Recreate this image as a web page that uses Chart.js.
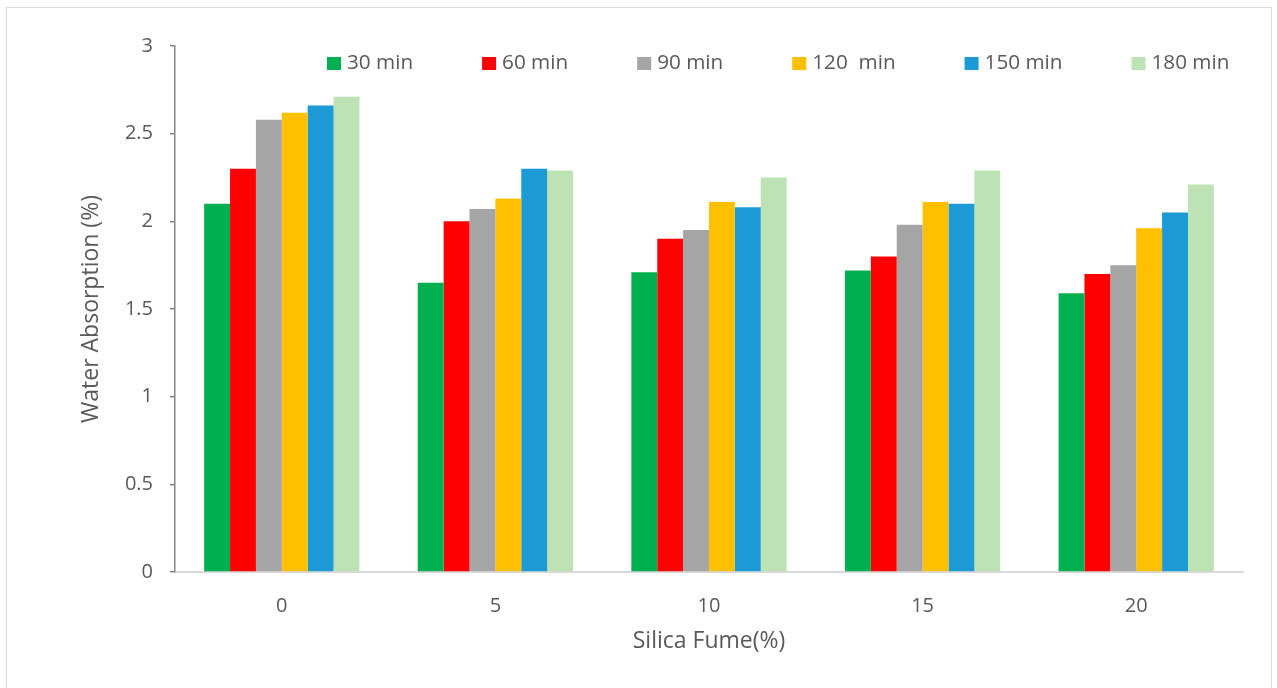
<!DOCTYPE html>
<html>
<head>
<meta charset="utf-8">
<script src="https://cdn.jsdelivr.net/npm/chart.js@4"></script>
<style>
  html, body { margin: 0; padding: 0; background: #ffffff; }
  #wrap { position: relative; width: 1277px; height: 688px; overflow: hidden; }
  #frame { position: absolute; left: 6px; top: 7px; width: 1266px; height: 720px;
           border: 1px solid #d9d9d9; box-sizing: border-box; }
  canvas { position: absolute; left: 0; top: 0; }
</style>
</head>
<body>
<div id="wrap">
  <div id="frame"></div>
  <canvas id="chart" width="1277" height="688"></canvas>
</div>
<script>
// Silica fume content (%) on the x axis
const categories = ['0', '5', '10', '15', '20'];

// Water absorption (%) after each immersion time
const seriesNames = ['30 min', '60 min', '90 min', '120  min', '150 min', '180 min'];
const absorption30 = [2.10, 1.65, 1.71, 1.72, 1.59];
const absorption60 = [2.30, 2.00, 1.90, 1.80, 1.70];
const absorption90 = [2.58, 2.07, 1.95, 1.98, 1.75];
const absorption120 = [2.62, 2.13, 2.11, 2.11, 1.96];
const absorption150 = [2.66, 2.30, 2.08, 2.10, 2.05];
const absorption180 = [2.71, 2.29, 2.25, 2.29, 2.21];

const yTicks = [0, 0.5, 1, 1.5, 2, 2.5, 3];

const seriesColors = ['#00b050', '#ff0000', '#a5a5a5', '#ffc000', '#1b9ad6', '#bde3b4'];
const seriesValues = [absorption30, absorption60, absorption90, absorption120, absorption150, absorption180];

const textColor = '#595959';
const fontFamily = '"Open Sans", "Noto Sans", sans-serif';

// Single-row legend drawn across the top of the plot
const topLegend = {
  id: 'topLegend',
  afterDraw(chart) {
    const ctx = chart.ctx;
    ctx.save();
    ctx.font = '20.7px ' + fontFamily;
    ctx.textBaseline = 'middle';
    ctx.textAlign = 'left';
    let x = 327;
    const boxTop = 57, boxW = 14, boxH = 13, textY = 63.5;
    chart.data.datasets.forEach(ds => {
      ctx.fillStyle = ds.backgroundColor;
      ctx.fillRect(x, boxTop, boxW, boxH);
      ctx.fillStyle = textColor;
      ctx.fillText(ds.label, x + boxW + 6, textY);
      x += boxW + 6 + ctx.measureText(ds.label).width + 69;
    });
    ctx.restore();
  }
};

new Chart(document.getElementById('chart'), {
  type: 'bar',
  data: {
    labels: categories,
    datasets: seriesNames.map((name, i) => ({
      label: name,
      data: seriesValues[i],
      backgroundColor: seriesColors[i],
      borderWidth: 0,
      barPercentage: 1,
      categoryPercentage: 0.727
    }))
  },
  options: {
    responsive: false,
    devicePixelRatio: 1,
    animation: false,
    layout: { padding: { top: 46, right: 34, bottom: 0, left: 0 } },
    plugins: {
      legend: { display: false },
      tooltip: { enabled: false }
    },
    scales: {
      x: {
        afterFit(scale) { scale.height = 116; },
        border: { display: true, color: '#d9d9d9', width: 2 },
        grid: { display: false, drawTicks: false },
        ticks: { padding: 22, color: textColor, font: { family: fontFamily, size: 20 } },
        title: {
          display: true, text: 'Silica Fume(%)', color: textColor,
          font: { family: fontFamily, size: 23 }, padding: { top: 0, bottom: 33 }
        }
      },
      y: {
        min: 0, max: 3,
        afterFit(scale) { scale.width = 175; },
        afterBuildTicks(scale) { scale.ticks = yTicks.map(v => ({ value: v })); },
        border: { display: true, color: '#868686', width: 1.5 },
        grid: { display: true, drawOnChartArea: false, drawTicks: true, tickLength: 5,
                color: '#868686', lineWidth: 1.5 },
        ticks: {
          padding: 17, color: textColor, font: { family: fontFamily, size: 20 },
          callback: value => String(value)
        },
        title: {
          display: true, text: 'Water Absorption (%)', color: textColor,
          font: { family: fontFamily, size: 23 }, padding: { top: 78, bottom: 0 }
        }
      }
    }
  },
  plugins: [topLegend]
});
</script>
</body>
</html>
